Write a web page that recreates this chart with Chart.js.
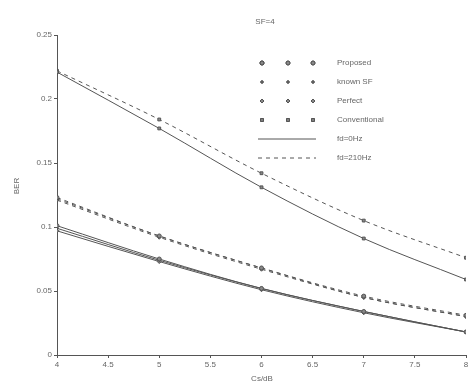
<!DOCTYPE html>
<html>
<head>
<meta charset="utf-8">
<script src="https://cdn.jsdelivr.net/npm/chart.js@4"></script>
<style>
  html, body { margin: 0; padding: 0; background: #fff; }
  #wrap { width: 472px; height: 385px; }
  canvas { filter: blur(0.4px); }
</style>
</head>
<body>
<div id="wrap"><canvas id="berChart" width="472" height="385"></canvas></div>
<script>
const snr = [4, 5, 6, 7, 8];

const convFd0 = [0.221, 0.177, 0.131, 0.091, 0.059];
const convFd210 = [0.222, 0.184, 0.142, 0.105, 0.076];
const propFd0 = [0.101, 0.075, 0.052, 0.034, 0.018];
const knownFd0 = [0.099, 0.074, 0.052, 0.034, 0.018];
const perfFd0 = [0.097, 0.073, 0.051, 0.033, 0.018];
const propFd210 = [0.123, 0.093, 0.068, 0.046, 0.031];
const knownFd210 = [0.122, 0.093, 0.068, 0.045, 0.030];
const perfFd210 = [0.121, 0.092, 0.067, 0.045, 0.030];

const methods = ['Proposed', 'known SF', 'Perfect', 'Conventional'];
const lineLabels = ['fd=0Hz', 'fd=210Hz'];
const titleText = 'SF=4';
const xTitle = 'Cs/dB';
const yTitle = 'BER';

const markers = ['circle', 'cross', 'rectRot', 'rect'];
const ink = '#555';

function series(label, values, method, dashed) {
    return {
        label: label,
        data: values.map((v, i) => ({ x: snr[i], y: v })),
        borderColor: ink,
        backgroundColor: ink,
        borderWidth: 1,
        borderDash: dashed ? [4, 4] : [],
        pointStyle: markers[method],
        pointRadius: 2,
        pointBorderColor: ink,
        pointBackgroundColor: '#888',
        cubicInterpolationMode: 'monotone',
        fill: false
    };
}

// draws title, axis titles and the in-plot legend
const annotations = {
    id: 'annotations',
    afterDraw(chart) {
        const ctx = chart.ctx;
        ctx.save();
        ctx.fillStyle = '#666';
        ctx.font = '8px "Liberation Sans", Arial, sans-serif';
        ctx.textAlign = 'center';
        ctx.textBaseline = 'middle';
        ctx.fillText(titleText, 265, 22);
        ctx.fillText(xTitle, 262, 379);
        ctx.save();
        ctx.translate(17, 186);
        ctx.rotate(-Math.PI / 2);
        ctx.fillText(yTitle, 0, 0);
        ctx.restore();

        const mx = [262, 288, 313];
        const textX = 337;
        const rowY = [63, 82, 101, 120, 139, 158];
        ctx.textAlign = 'left';
        methods.forEach((m, r) => {
            mx.forEach(x => {
                Chart.helpers.drawPoint(ctx, {
                    pointStyle: markers[r], radius: 2, borderWidth: 1, rotation: 0
                }, x, rowY[r]);
                ctx.strokeStyle = ink;
                ctx.fillStyle = '#888';
                ctx.fill();
                ctx.stroke();
            });
            ctx.fillStyle = '#666';
            ctx.fillText(m, textX, rowY[r]);
        });
        lineLabels.forEach((l, k) => {
            const y = rowY[4 + k];
            ctx.strokeStyle = ink;
            ctx.lineWidth = 1;
            ctx.setLineDash(k === 1 ? [4, 4] : []);
            ctx.beginPath();
            ctx.moveTo(258, y);
            ctx.lineTo(316, y);
            ctx.stroke();
            ctx.setLineDash([]);
            ctx.fillStyle = '#666';
            ctx.fillText(l, textX, y);
        });
        ctx.restore();
    }
};

const ctx = document.getElementById('berChart').getContext('2d');
new Chart(ctx, {
    type: 'line',
    data: {
        datasets: [
            series('Conventional fd=0Hz', convFd0, 3, false),
            series('Conventional fd=210Hz', convFd210, 3, true),
            series('Proposed fd=0Hz', propFd0, 0, false),
            series('known SF fd=0Hz', knownFd0, 1, false),
            series('Perfect fd=0Hz', perfFd0, 2, false),
            series('Proposed fd=210Hz', propFd210, 0, true),
            series('known SF fd=210Hz', knownFd210, 1, true),
            series('Perfect fd=210Hz', perfFd210, 2, true)
        ]
    },
    options: {
        responsive: false,
        animation: false,
        layout: { padding: { top: 35, right: 6, left: 0, bottom: 0 } },
        plugins: {
            legend: { display: false },
            tooltip: { enabled: false }
        },
        scales: {
            x: {
                type: 'linear',
                min: 4,
                max: 8,
                afterFit: s => { s.height = 30; },
                ticks: {
                    stepSize: 0.5,
                    color: '#666',
                    padding: 2,
                    maxRotation: 0,
                    callback: v => String(v),
                    font: { family: '"Liberation Sans", Arial, sans-serif', size: 8 }
                },
                grid: { drawOnChartArea: false, tickLength: 3, color: ink },
                border: { color: ink, width: 1 }
            },
            y: {
                min: 0,
                max: 0.25,
                afterFit: s => { s.width = 57; },
                ticks: {
                    stepSize: 0.05,
                    color: '#666',
                    padding: 2,
                    callback: v => String(Math.round(v * 100) / 100),
                    font: { family: '"Liberation Sans", Arial, sans-serif', size: 8 }
                },
                grid: { drawOnChartArea: false, tickLength: 3, color: ink },
                border: { color: ink, width: 1 }
            }
        }
    },
    plugins: [annotations]
});
</script>
</body>
</html>
